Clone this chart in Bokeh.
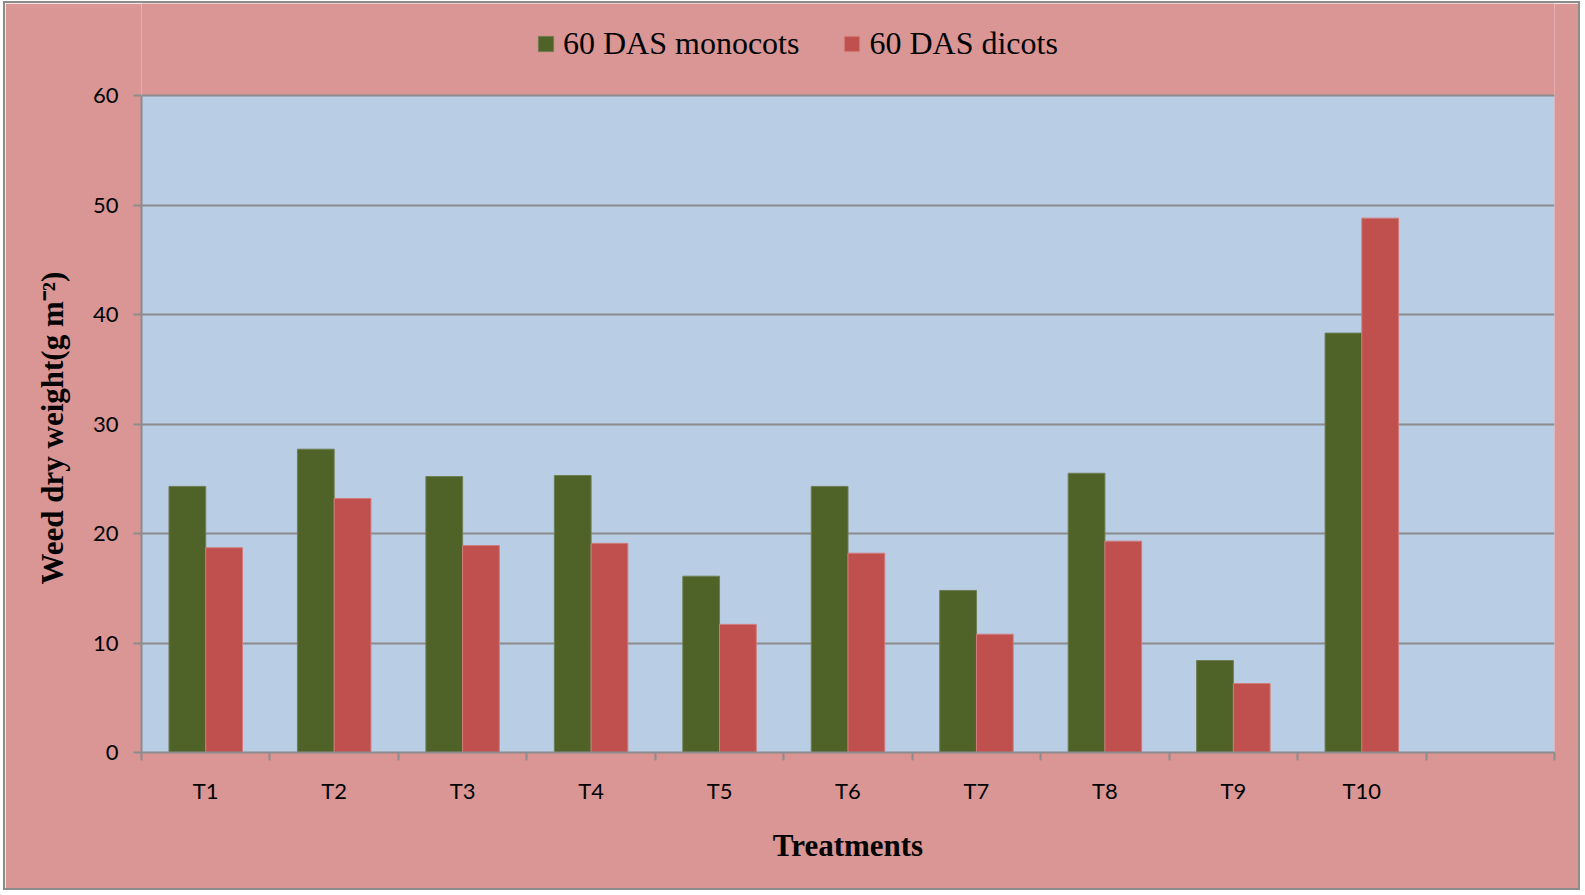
from bokeh.plotting import figure
from bokeh.models import (ColumnDataSource, Range1d, FixedTicker, Legend, LegendItem,
                          BoxAnnotation, Title)
from bokeh.embed import file_html
from bokeh.resources import INLINE
import numpy as np

categories = ["T1", "T2", "T3", "T4", "T5", "T6", "T7", "T8", "T9", "T10"]
monocots = [24.3, 27.7, 25.2, 25.3, 16.1, 24.3, 14.8, 25.5, 8.4, 38.3]
dicots = [18.7, 23.2, 18.9, 19.1, 11.7, 18.2, 10.8, 19.3, 6.3, 48.8]
series_names = ["60 DAS monocots", "60 DAS dicots"]
y_ticks = [0, 10, 20, 30, 40, 50, 60]
y_max = 60
y_title = "Weed dry weight(g m\u207b\u00b2)"
x_title = "Treatments"

GREEN = "#4F6228"
RED = "#C0504D"
PINK = "#D99694"
BLUE = "#B9CDE5"
GRID = "#8C8C8C"

# layout geometry (pixels)
W, H = 1577, 889
ML, MT = 3, 1          # css margin
BW = 2                 # border width
ox, oy = ML + BW, MT + BW
frame_left, frame_right, frame_top_plot, frame_bottom = 141, 1554, 95, 752
mb_left = frame_left - ox
mb_right = ox + W - frame_right
mb_bottom = oy + H - frame_bottom
mb_top = 0
frame_h = frame_bottom - oy - mb_top
plot_h = frame_bottom - frame_top_plot
y_end = y_max * frame_h / plot_h

n_slots = len(categories) + 1
bar_w = 0.286

centers = np.arange(len(categories)) + 0.5
src = ColumnDataSource(dict(
    x_m=centers - bar_w / 2, x_d=centers + bar_w / 2,
    mono=monocots, dic=dicots, cat=categories))

p = figure(width=W, height=H, output_backend="svg", toolbar_location=None,
           x_range=Range1d(0, n_slots), y_range=Range1d(0, y_end),
           min_border_left=mb_left, min_border_right=mb_right, min_border_top=mb_top,
           min_border_bottom=mb_bottom)
p.styles = {"border": f"{BW}px solid #8C8C8C", "margin-left": f"{ML}px",
            "margin-top": f"{MT}px"}
p.background_fill_color = PINK
p.border_fill_color = PINK
p.outline_line_color = None

p.add_layout(BoxAnnotation(bottom=0, top=y_max, fill_color=BLUE, fill_alpha=1,
                           line_color=None, level="image"))

r1 = p.vbar(x="x_m", top="mono", width=bar_w, source=src, fill_color=GREEN,
            line_color="#6E7E52", line_width=1)
r2 = p.vbar(x="x_d", top="dic", width=bar_w, source=src, fill_color=RED,
            line_color="#D07C7A", line_width=1)

TICK_FONT = "Lato"

# x axis
xa = p.xaxis[0]
xa.ticker = FixedTicker(ticks=list(centers), minor_ticks=list(range(n_slots + 1)))
xa.major_label_overrides = {float(c): lab for c, lab in zip(centers, categories)}
xa.major_tick_out = 0
xa.major_tick_in = 0
xa.minor_tick_out = 8
xa.minor_tick_in = 0
xa.minor_tick_line_color = GRID
xa.minor_tick_line_width = 2
xa.axis_line_color = GRID
xa.axis_line_width = 2
xa.major_label_text_font = TICK_FONT
xa.major_label_text_font_size = "22px"
xa.major_label_text_color = "black"
xa.major_label_standoff = 16
xa.axis_label = x_title
xa.axis_label_text_font = "Liberation Serif"
xa.axis_label_text_font_style = "bold"
xa.axis_label_text_font_size = "31px"
xa.axis_label_text_color = "black"
xa.axis_label_standoff = 21

# y axis
ya = p.yaxis[0]
ya.bounds = (0, y_max)
ya.ticker = FixedTicker(ticks=y_ticks, minor_ticks=[])
ya.major_tick_out = 8
ya.major_tick_in = 0
ya.major_tick_line_color = GRID
ya.major_tick_line_width = 2
ya.minor_tick_line_color = None
ya.axis_line_color = GRID
ya.axis_line_width = 2
ya.major_label_text_font = TICK_FONT
ya.major_label_text_font_size = "22px"
ya.major_label_text_color = "black"
ya.major_label_standoff = 15

yt = Title(text=y_title, align="left", offset=frame_bottom - 584 - 8,
           text_font="Liberation Serif", text_font_style="bold",
           text_font_size="31px", text_color="black", standoff=24)
yt.padding = 8
p.add_layout(yt, "left")

p.xgrid.grid_line_color = None
p.ygrid.ticker = FixedTicker(ticks=y_ticks)
p.ygrid.grid_line_color = GRID
p.ygrid.grid_line_width = 2

legend = Legend(items=[LegendItem(label=series_names[0], renderers=[r1]),
                       LegendItem(label=series_names[1], renderers=[r2])],
                orientation="horizontal", location=(536 - frame_left, frame_bottom - 43 - 19),
                label_text_font="Liberation Serif", label_text_font_size="32px",
                label_text_color="black", glyph_width=19, glyph_height=19,
                label_standoff=8, spacing=43, padding=0, margin=0,
                border_line_color=None, background_fill_alpha=0)
p.add_layout(legend, "center")

open("out.html", "w").write(file_html(p, INLINE))
